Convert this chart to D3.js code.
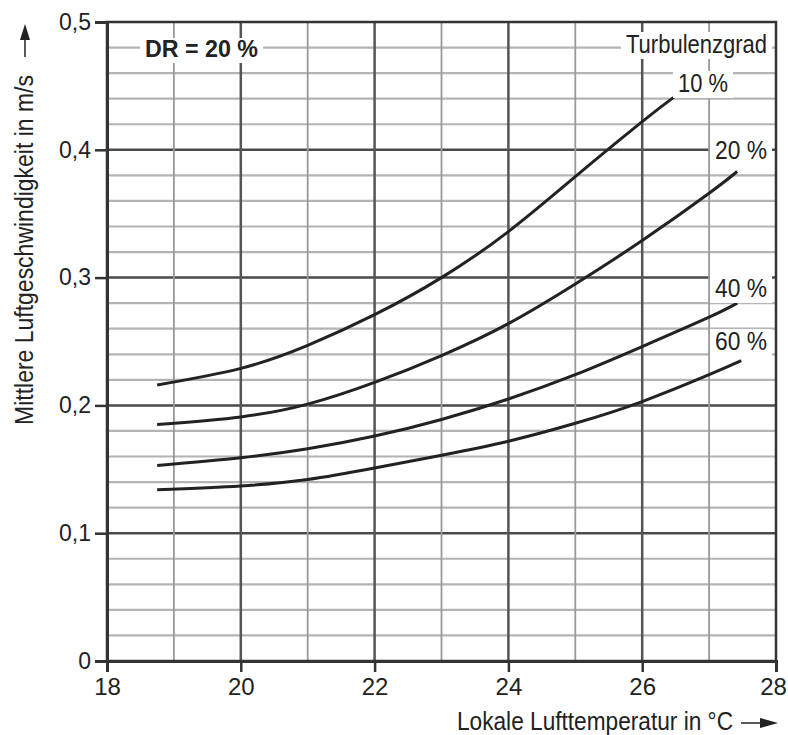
<!DOCTYPE html>
<html lang="de">
<head>
<meta charset="UTF-8">
<title>DR = 20 %</title>
<script src="https://d3js.org/d3.v7.min.js"></script>
<style>
    body { margin: 0; background: #fff; }
    svg text { font-family: "Liberation Sans", Arial, sans-serif; fill: #222; }
</style>
</head>
<body>
<div id="chart"></div>
<script>
    // Turbulenzgrad curves
    const turbLabels = ["10 %", "20 %", "40 %", "60 %"];
    const temp10 = [18.75, 20, 21, 22, 23, 24, 25, 26, 26.47];
    const speed10 = [0.216, 0.229, 0.247, 0.271, 0.300, 0.336, 0.379, 0.422, 0.441];
    const temp20 = [18.75, 20, 21, 22, 23, 24, 25, 26, 27, 27.42];
    const speed20 = [0.185, 0.191, 0.201, 0.218, 0.239, 0.264, 0.295, 0.329, 0.366, 0.383];
    const temp40 = [18.75, 20, 21, 22, 23, 24, 25, 26, 27, 27.42];
    const speed40 = [0.153, 0.159, 0.166, 0.176, 0.189, 0.205, 0.224, 0.246, 0.269, 0.280];
    const temp60 = [18.75, 20, 21, 22, 23, 24, 25, 26, 27, 27.48];
    const speed60 = [0.134, 0.137, 0.142, 0.151, 0.161, 0.172, 0.186, 0.203, 0.224, 0.235];

    const xTicks = [18, 20, 22, 24, 26, 28];
    const yTicks = [0, 0.1, 0.2, 0.3, 0.4, 0.5];

    const width = 788, height = 735;
    const margin = {top: 22, right: 12, bottom: 74, left: 107};

    const svg = d3.select("#chart").append("svg")
        .attr("width", width)
        .attr("height", height);

    const x = d3.scaleLinear().domain([18, 28]).range([margin.left, width - margin.right]);
    const y = d3.scaleLinear().domain([0, 0.5]).range([height - margin.bottom, margin.top]);

    const de = d3.formatLocale({decimal: ",", thousands: ".", grouping: [3], currency: ["", " €"]});
    const fmt = d => d === 0 ? "0" : de.format(".1f")(d);

    // grid: every 0.02 m/s and every 1 °C, darker on the labelled values
    const grid = svg.append("g");
    const hLines = d3.range(1, 25).map(i => i * 0.02);
    grid.selectAll("line.h")
        .data(hLines)
        .join("line")
        .attr("x1", x(18)).attr("x2", x(28))
        .attr("y1", d => y(d)).attr("y2", d => y(d))
        .attr("stroke", (d, i) => (i + 1) % 5 === 0 ? "#4a4a4a" : "#b4b4b4")
        .attr("stroke-width", (d, i) => (i + 1) % 5 === 0 ? 2.5 : 2.2);

    const vLines = d3.range(19, 28);
    grid.selectAll("line.v")
        .data(vLines)
        .join("line")
        .attr("x1", d => x(d)).attr("x2", d => x(d))
        .attr("y1", y(0)).attr("y2", y(0.5))
        .attr("stroke", d => d % 2 === 0 ? "#555" : "#999")
        .attr("stroke-width", d => d % 2 === 0 ? 2.5 : 1.8);

    // frame
    svg.append("rect")
        .attr("x", x(18)).attr("y", y(0.5))
        .attr("width", x(28) - x(18)).attr("height", y(0) - y(0.5))
        .attr("fill", "none").attr("stroke", "#333").attr("stroke-width", 2.5);

    // axes
    const yAxis = svg.append("g")
        .attr("transform", `translate(${x(18)},0)`)
        .call(d3.axisLeft(y).tickValues(yTicks).tickSize(12).tickPadding(4).tickFormat(fmt));
    const xAxis = svg.append("g")
        .attr("transform", `translate(0,${y(0)})`)
        .call(d3.axisBottom(x).tickValues(xTicks).tickSize(11).tickPadding(6).tickFormat(d3.format("d")));
    [yAxis, xAxis].forEach(a => {
        a.select(".domain").attr("stroke", "#333").attr("stroke-width", 3);
        a.selectAll(".tick line").attr("stroke", "#333").attr("stroke-width", 2.5);
        a.selectAll(".tick text").attr("fill", "#222").style("font-size", "23px");
    });
    xAxis.selectAll(".tick text").style("font-size", "24px")
        .attr("dx", d => d === 28 ? -3 : 0);

    // curves
    const curves = [
        {name: turbLabels[0], t: temp10, v: speed10},
        {name: turbLabels[1], t: temp20, v: speed20},
        {name: turbLabels[2], t: temp40, v: speed40},
        {name: turbLabels[3], t: temp60, v: speed60}
    ];
    const line = d3.line()
        .x(d => x(d[0]))
        .y(d => y(d[1]))
        .curve(d3.curveNatural);
    svg.append("g").selectAll("path")
        .data(curves)
        .join("path")
        .attr("d", c => line(c.t.map((t, i) => [t, c.v[i]])))
        .attr("fill", "none")
        .attr("stroke", "#222")
        .attr("stroke-width", 3);

    // condensed text: squeeze to the width seen in the chart
    function narrowText(sel, txt, w) {
        return sel.append("text")
            .attr("textLength", w)
            .attr("lengthAdjust", "spacingAndGlyphs")
            .text(txt);
    }

    // labels with white boxes that break the grid
    function boxedLabel(txt, left, base, w, size, bold) {
        const g = svg.append("g");
        const r = g.append("rect").attr("fill", "#fff");
        const t = narrowText(g, txt, w)
            .attr("x", left).attr("y", base)
            .style("font-size", size + "px")
            .style("font-weight", bold ? "bold" : "normal");
        const b = t.node().getBBox();
        r.attr("x", left - 5).attr("y", b.y + 2)
            .attr("width", w + 10).attr("height", b.height - 1);
    }
    boxedLabel("DR = 20 %", 145, 57, 113, 23, true);
    boxedLabel("Turbulenzgrad", 626, 53, 141, 25, false);
    boxedLabel(turbLabels[0], 678, 92, 50, 25, false);
    boxedLabel(turbLabels[1], 715, 159, 52, 25, false);
    boxedLabel(turbLabels[2], 715, 297, 52, 25, false);
    boxedLabel(turbLabels[3], 715, 350, 52, 25, false);

    // axis titles with arrows
    narrowText(svg, "Lokale Lufttemperatur in °C", 276)
        .attr("x", 457).attr("y", 730)
        .style("font-size", "25px");
    svg.append("line")
        .attr("x1", 741).attr("x2", 764).attr("y1", 723).attr("y2", 723)
        .attr("stroke", "#222").attr("stroke-width", 1.5);
    svg.append("path")
        .attr("d", "M778,723L760,718L760,728Z")
        .attr("fill", "#222");

    narrowText(svg, "Mittlere Luftgeschwindigkeit in m/s", 350)
        .attr("transform", "translate(33,425) rotate(-90)")
        .style("font-size", "25px");
    svg.append("line")
        .attr("x1", 25).attr("x2", 25).attr("y1", 57).attr("y2", 36)
        .attr("stroke", "#222").attr("stroke-width", 1.5);
    svg.append("path")
        .attr("d", "M25,24L20,40L30,40Z")
        .attr("fill", "#222");
</script>
</body>
</html>
